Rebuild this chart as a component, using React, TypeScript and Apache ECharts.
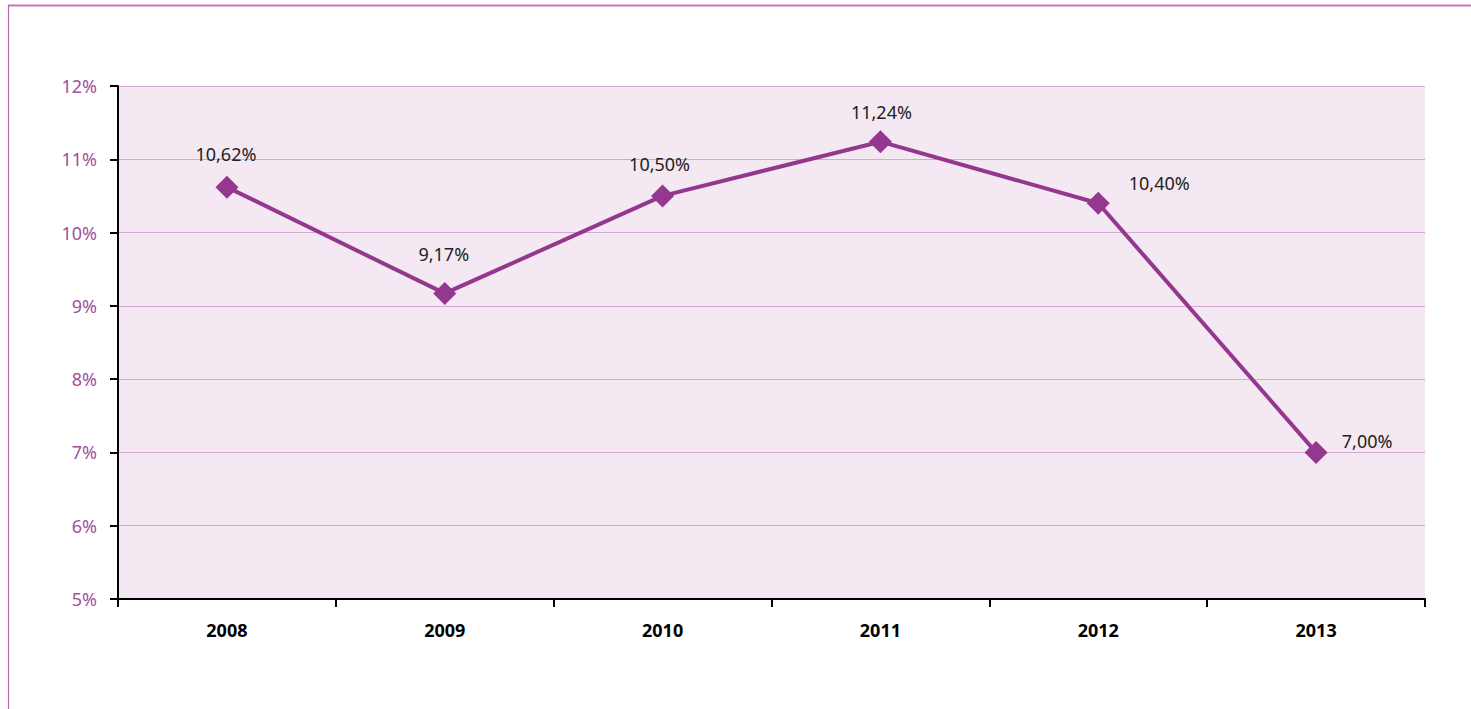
import React, { useEffect, useRef } from "react";
import * as echarts from "echarts";

const years = ["2008", "2009", "2010", "2011", "2012", "2013"];
const rates = [10.62, 9.17, 10.5, 11.24, 10.4, 7.0];
const labelOffsets: [number, number][] = [
  [-1, -33],
  [-1, -39],
  [-3, -32],
  [1, -30],
  [61, -20],
  [51, -11],
];

const PURPLE = "#93378F";
const FONT = "'Noto Sans', sans-serif";

export default function App() {
  const ref = useRef<HTMLDivElement>(null);
  useEffect(() => {
    if (!ref.current) return;
    const chart = echarts.init(ref.current, undefined, { renderer: "svg" });
    chart.setOption({
      animation: false,
      backgroundColor: "#ffffff",
      textStyle: { fontFamily: FONT },
      grid: {
        left: 118,
        right: 46,
        top: 86,
        bottom: 110,
        show: true,
        backgroundColor: "#F4E9F3",
        borderWidth: 0,
      },
      graphic: [
        {
          type: "line",
          shape: { x1: 8, y1: 5.5, x2: 1471, y2: 5.5 },
          style: { stroke: "#C07AB8", lineWidth: 2 },
        },
        {
          type: "line",
          shape: { x1: 8.5, y1: 5, x2: 8.5, y2: 709 },
          style: { stroke: "#B06AA8", lineWidth: 1.2 },
        },
      ],
      xAxis: {
        type: "category",
        data: years,
        boundaryGap: true,
        axisLine: { lineStyle: { color: "#000", width: 2 } },
        axisTick: {
          show: true,
          length: 8,
          lineStyle: { color: "#000", width: 2 },
        },
        axisLabel: {
          color: "#000",
          fontWeight: "bold",
          fontSize: 18,
          margin: 22,
          fontFamily: FONT,
        },
        splitLine: { show: false },
      },
      yAxis: {
        type: "value",
        min: 5,
        max: 12,
        interval: 1,
        axisLine: { show: true, lineStyle: { color: "#000", width: 2 } },
        axisTick: {
          show: true,
          length: 8,
          lineStyle: { color: "#000", width: 2 },
        },
        axisLabel: {
          color: "#A0509C",
          fontSize: 18,
          margin: 21,
          formatter: "{value}%",
          fontFamily: FONT,
        },
        splitLine: { show: true, lineStyle: { color: "#D7A8D3", width: 1 } },
      },
      series: [
        {
          type: "line",
          data: rates.map((v, i) => ({
            value: v,
            label: { offset: labelOffsets[i] },
          })),
          symbol: "diamond",
          symbolSize: 23,
          lineStyle: { color: PURPLE, width: 4 },
          itemStyle: { color: PURPLE },
          label: {
            show: true,
            position: "inside",
            color: "#222",
            fontSize: 18,
            fontFamily: FONT,
            formatter: (p: any) => p.value.toFixed(2).replace(".", ",") + "%",
          },
        },
      ],
    });
    return () => chart.dispose();
  }, []);
  return (
    <div
      ref={ref}
      style={{ position: "fixed", left: 0, top: 0, width: 1471, height: 709 }}
    />
  );
}
